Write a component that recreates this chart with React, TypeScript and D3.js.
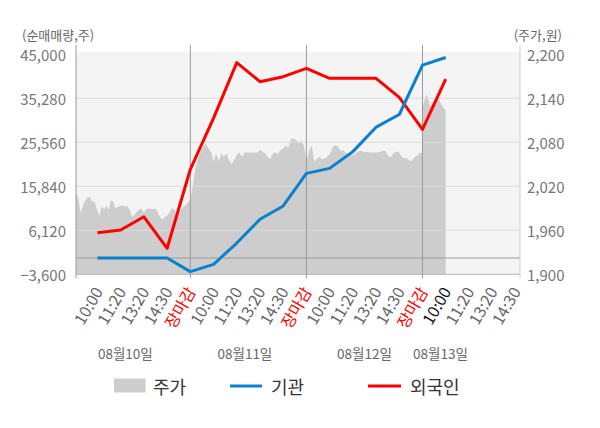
import React from "react";
import * as d3 from "d3";

// ---------- data ----------
const dates = ["08월10일", "08월11일", "08월12일", "08월13일"];
const sessionLabels = ["10:00", "11:20", "13:20", "14:30", "장마감"];
const volumeTicks = [-3600, 6120, 15840, 25560, 35280, 45000];
const priceTicks = [1900, 1960, 2020, 2080, 2140, 2200];

// net buying (shares) at each checkpoint: day*5 + session index
const institution = [0, 0, 0, 0, -3000, -1400, 3300, 8550, 11500, 18700, 19800, 23500, 28900, 31700, 42600, 44300];
const foreigner = [5600, 6200, 9100, 2150, 19600, 30900, 43150, 38950, 40050, 41900, 39700, 39700, 39700, 35500, 28400, 39500];

// intraday price (won)
const priceDay1 = [2011, 2004, 1984, 1994, 2001, 2005, 2005, 1999, 1999, 1988, 1980, 1993, 1988, 1994, 1988, 2001, 1999, 1990, 1992, 1993, 1994, 1992, 1993, 1988, 1978, 1981, 1985, 1988, 1990, 1984, 1988, 1990, 1989, 1989, 1990, 1985, 1978, 1975, 1978, 1980, 1984, 1990, 1989, 1984, 1981, 1988, 1992, 1994, 1999, 2001];
const priceDay2 = [2001, 2022, 2045, 2059, 2067, 2074, 2078, 2072, 2067, 2054, 2065, 2054, 2065, 2060, 2065, 2056, 2050, 2056, 2063, 2066, 2060, 2066, 2066, 2066, 2066, 2066, 2066, 2070, 2067, 2065, 2060, 2057, 2065, 2066, 2064, 2070, 2072, 2076, 2072, 2085, 2085, 2083, 2079, 2082, 2076, 2056];
const priceDay3 = [2052, 2068, 2076, 2053, 2058, 2060, 2057, 2058, 2061, 2064, 2074, 2076, 2074, 2068, 2069, 2065, 2064, 2065, 2063, 2066, 2068, 2068, 2066, 2067, 2066, 2066, 2066, 2066, 2067, 2068, 2068, 2061, 2060, 2065, 2067, 2067, 2061, 2058, 2059, 2055, 2055, 2060, 2062, 2066, 2065];
const priceDay4 = [2124, 2138, 2146, 2139, 2129, 2135, 2129, 2138, 2143, 2135, 2131, 2126, 2124];

// ---------- layout ----------
const W = 600;
const H = 428;
const L = 76;
const R = 520;
const TOP = 54.3;
const BOT = 274.3;
const FONT = "'Noto Sans CJK KR', 'Noto Sans', sans-serif";
const dateLabelU = [0.44, 1.47, 2.5, 3.155];
const daySpans: [number, number][] = [[0.015, 1], [1, 2], [2, 3], [3, 3.2]];

export default function App() {
  const x = d3.scaleLinear().domain([0.015, 3.84]).range([L, R]);
  const yL = d3.scaleLinear().domain([-3600, 45000]).range([BOT, TOP]);
  const yR = d3.scaleLinear().domain([1900, 2200]).range([BOT, TOP]);

  const cpU = (i: number) => Math.floor(i / 5) + ((i % 5) + 1) / 5;

  const pricePts: { u: number; p: number }[] = [];
  [priceDay1, priceDay2, priceDay3, priceDay4].forEach((arr, d) => {
    const [a, b] = daySpans[d];
    arr.forEach((p, i) => pricePts.push({ u: a + ((b - a) * i) / (arr.length - 1), p }));
  });

  const areaGen = d3
    .area<{ u: number; p: number }>()
    .x((d) => x(d.u))
    .y0(yR(1900))
    .y1((d) => yR(d.p));

  const lineGen = d3
    .line<number>()
    .x((_, i) => x(cpU(i)))
    .y((v) => yL(v));

  const tickIdx = d3.range(19);
  const separators = [1, 2, 3];

  return (
    <svg
      width={W}
      height={H}
      style={{ position: "absolute", left: 0, top: 0, background: "#fff" }}
      fontFamily={FONT}
    >
      {/* plot background */}
      <rect x={L} y={51.7} width={R - L} height={BOT - 51.7} fill="#f4f4f4" />
      {/* price area */}
      <path d={areaGen(pricePts) || ""} fill="#cdcdcd" />
      {/* grid lines */}
      {volumeTicks.slice(1, -1).map((v) => (
        <line key={v} x1={L} x2={R} y1={yL(v)} y2={yL(v)} stroke="#dcdcdc" strokeWidth={1} />
      ))}
      {/* zero line */}
      <line x1={L} x2={R} y1={yL(0)} y2={yL(0)} stroke="#999" strokeWidth={1} />
      {/* bottom line */}
      <line x1={L} x2={R} y1={BOT} y2={BOT} stroke="#b5b5b5" strokeWidth={1} />
      {/* axes */}
      <line x1={L} x2={L} y1={45} y2={278} stroke="#999" strokeWidth={1} />
      <line x1={R} x2={R} y1={45} y2={278} stroke="#d0d0d0" strokeWidth={1} />
      {separators.map((s) => (
        <line key={s} x1={x(s)} x2={x(s)} y1={45} y2={278} stroke="#999" strokeWidth={1} />
      ))}
      {/* series lines */}
      <path d={lineGen(foreigner) || ""} fill="none" stroke="#ff0000" strokeWidth={3} strokeLinejoin="round" />
      <path d={lineGen(institution) || ""} fill="none" stroke="#0a80d0" strokeWidth={3} strokeLinejoin="round" />

      {/* left ticks */}
      {volumeTicks.map((v) => (
        <text key={v} x={66} y={yL(v)} textAnchor="end" dominantBaseline="central" fontSize={15} fill="#777">
          {d3.format(",")(v)}
        </text>
      ))}
      {/* right ticks */}
      {priceTicks.map((v) => (
        <text key={v} x={527} y={yR(v)} textAnchor="start" dominantBaseline="central" fontSize={15} fill="#777">
          {d3.format(",")(v)}
        </text>
      ))}
      {/* titles */}
      <text x={22} y={34} dominantBaseline="central" fontSize={13} fill="#666">(순매매량,주)</text>
      <text x={562} y={34} textAnchor="end" dominantBaseline="central" fontSize={13} fill="#666">(주가,원)</text>

      {/* x tick labels */}
      {tickIdx.map((i) => {
        const lab = sessionLabels[i % 5];
        const isClose = i % 5 === 4;
        const color = isClose ? "#ff0000" : i === 15 ? "#111" : "#666";
        return (
          <text
            key={i}
            transform={`translate(${x(cpU(i))},288) rotate(-60)`}
            textAnchor="end"
            dominantBaseline="central"
            fontSize={16}
            fill={color}
          >
            {lab}
          </text>
        );
      })}
      {/* date labels */}
      {dates.map((d, i) => (
        <text key={d} x={x(dateLabelU[i])} y={353} textAnchor="middle" dominantBaseline="central" fontSize={13.5} fill="#666">
          {d}
        </text>
      ))}

      {/* legend */}
      <rect x={114} y={378.5} width={31.5} height={14} fill="#cdcdcd" />
      <text x={153} y={386} dominantBaseline="central" fontSize={18} fill="#333">주가</text>
      <line x1={230} x2={262} y1={386} y2={386} stroke="#0a80d0" strokeWidth={3} />
      <text x={271} y={386} dominantBaseline="central" fontSize={18} fill="#333">기관</text>
      <line x1={368} x2={401} y1={386} y2={386} stroke="#ff0000" strokeWidth={3} />
      <text x={410} y={386} dominantBaseline="central" fontSize={18} fill="#333">외국인</text>
    </svg>
  );
}
